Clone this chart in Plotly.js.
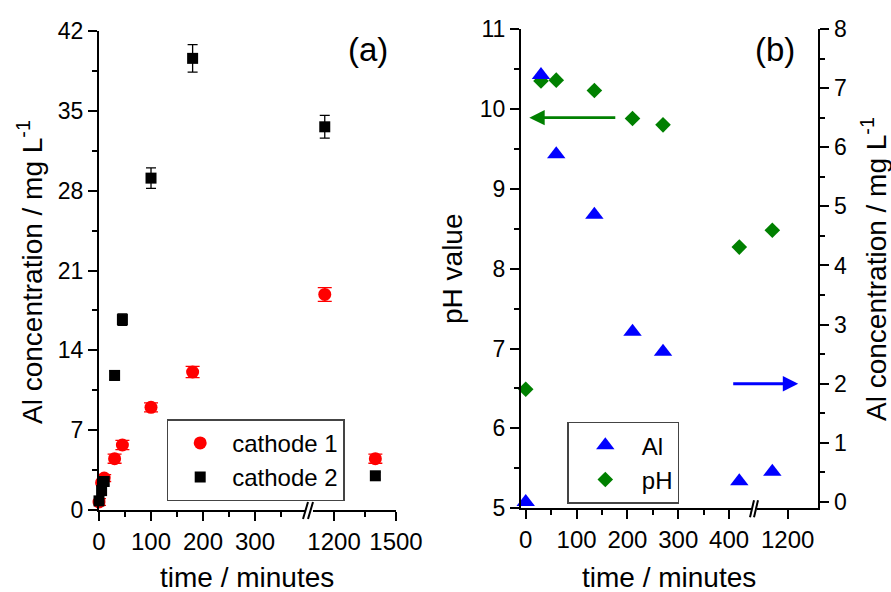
<!DOCTYPE html>
<html>
<head>
<meta charset="utf-8">
<script src="https://cdn.plot.ly/plotly-3.0.1.min.js"></script>
<style>html,body{margin:0;padding:0;background:#fff;}#chart{width:891px;height:592px;}</style>
</head>
<body>
<div id="chart"></div>
<script>
// ---------- data ----------
// panel (a)
const timeA = [0, 5, 10, 30, 45, 100, 180, 1155, 1400];
const cathode1 = [0.7, 2.4, 2.8, 4.5, 5.7, 9.0, 12.1, 18.9, 4.5];
const cathode1Err = [0.3, 0.3, 0.3, 0.4, 0.4, 0.4, 0.5, 0.6, 0.4];
const cathode2 = [0.8, 1.7, 2.5, 11.8, 16.7, 29.1, 39.6, 33.6, 3.0];
const cathode2Err = [0.3, 0.3, 0.3, 0.4, 0.5, 0.9, 1.2, 1.0, 0.3];
// panel (b)
const timeB = [0, 30, 60, 135, 210, 270, 420, 1155];
const pHValue = [6.49, 10.35, 10.36, 10.23, 9.88, 9.80, 8.27, 8.48];
const AlConc = [0.0, 7.22, 5.88, 4.86, 2.88, 2.54, 0.35, 0.51];
// tick values
const ticksA1 = [0, 100, 200, 300];
const ticksA2 = [1200, 1500];
const ticksB1 = [0, 100, 200, 300, 400];
const ticksB2 = [1200];
const ticksYA = [0, 7, 14, 21, 28, 35, 42];
const ticksPH = [5, 6, 7, 8, 9, 10, 11];
const ticksAl = [0, 1, 2, 3, 4, 5, 6, 7, 8];
// axis breaks
const breakA = [398, 1100];
const breakB = [445, 1110];

// ---------- helpers ----------
const W = 891, H = 592;
const fx = p => p / W;
const fy = p => 1 - p / H;
const FONT = 'Liberation Sans, Arial, sans-serif';
const RED = '#ff0000', BLACK = '#000000', BLUE = '#0000ff', GREEN = '#008000';

function pick(t, v, e, cond) {
  const o = {x: [], y: [], e: []};
  t.forEach((ti, i) => { if (cond(ti)) { o.x.push(ti); o.y.push(v[i]); if (e) o.e.push(e[i]); } });
  return o;
}

const traces = [];
function addSeries(name, t, v, e, brk, xa1, xa2, ya, marker, legend, capw) {
  const lo = pick(t, v, e, ti => ti <= brk[0]);
  const hi = pick(t, v, e, ti => ti >= brk[1]);
  [[lo, xa1, true], [hi, xa2, false]].forEach(([d, xa, sl]) => {
    const tr = {
      type: 'scatter', mode: 'markers', name: name,
      x: d.x, y: d.y, xaxis: xa, yaxis: ya,
      marker: marker, cliponaxis: false,
      showlegend: sl, legend: legend, legendgroup: name
    };
    if (e) tr.error_y = {type: 'data', array: d.e, visible: true, color: marker.color, thickness: 1.3, width: capw};
    traces.push(tr);
  });
}

addSeries('cathode 1', timeA, cathode1, cathode1Err, breakA, 'x', 'x2', 'y',
  {symbol: 'circle', size: 13, color: RED}, 'legend', 7);
addSeries('cathode 2', timeA, cathode2, cathode2Err, breakA, 'x', 'x2', 'y',
  {symbol: 'square', size: 11, color: BLACK}, 'legend', 5);
addSeries('pH', timeB, pHValue, null, breakB, 'x3', 'x4', 'y2',
  {symbol: 'diamond', size: 12, color: GREEN}, 'legend2');
addSeries('Al', timeB, AlConc, null, breakB, 'x3', 'x4', 'y3',
  {symbol: 'triangle-up', size: 16, color: BLUE}, 'legend2');

const axBase = {
  showgrid: false, zeroline: false, showline: true, linecolor: '#000', linewidth: 2,
  ticks: 'outside', ticklen: 9, tickwidth: 2, tickcolor: '#000',
  tickfont: {family: FONT, size: 24, color: '#000'},
  automargin: false, fixedrange: true
};
const yTickFont = {family: FONT, size: 23, color: '#000'};
function ax(extra) { return Object.assign({}, axBase, extra); }
const minorDt = (dt) => ({ticks: 'outside', ticklen: 5, tickwidth: 2, tickcolor: '#000', dtick: dt});

const layout = {
  width: W, height: H,
  margin: {l: 0, r: 0, t: 0, b: 0},
  paper_bgcolor: '#fff', plot_bgcolor: 'rgba(0,0,0,0)',
  font: {family: FONT, color: '#000'},
  hovermode: false,
  // panel (a)
  xaxis: ax({domain: [fx(99), fx(306)], range: [0, breakA[0]], anchor: 'y',
    tickmode: 'array', tickvals: ticksA1, minor: minorDt(50)}),
  xaxis2: ax({domain: [fx(313.4), fx(396)], range: [breakA[1], 1500], anchor: 'y',
    tickmode: 'array', tickvals: ticksA2,
    minor: {ticks: 'outside', ticklen: 5, tickwidth: 2, tickcolor: '#000', tickmode: 'array', tickvals: [1350]}}),
  yaxis: ax({domain: [fy(510), fy(31)], range: [0, 42], anchor: 'x',
    tickmode: 'array', tickvals: ticksYA, tickfont: yTickFont, minor: minorDt(3.5)}),
  // panel (b)
  xaxis3: ax({domain: [fx(521), fx(752)], range: [-9.3, breakB[0]], anchor: 'y2',
    tickmode: 'array', tickvals: ticksB1, minor: minorDt(50)}),
  xaxis4: ax({domain: [fx(757), fx(818.3)], range: [breakB[1], 1290], anchor: 'y2',
    tickmode: 'array', tickvals: ticksB2}),
  yaxis2: ax({domain: [fy(508.3), fy(29)], range: [5, 11], anchor: 'x3',
    tickmode: 'array', tickvals: ticksPH, tickfont: yTickFont, minor: minorDt(0.5)}),
  yaxis3: ax({range: [-0.107, 8], overlaying: 'y2', side: 'right', anchor: 'x4',
    tickmode: 'array', tickvals: ticksAl, tickfont: yTickFont, minor: minorDt(0.5)}),
  legend: {x: fx(166.7), y: fy(419.3), xanchor: 'left', yanchor: 'top',
    bgcolor: '#fff', bordercolor: '#444', borderwidth: 1.5,
    font: {family: FONT, size: 24, color: '#000'}, itemwidth: 54, traceorder: 'normal'},
  legend2: {x: fx(567.3), y: fy(421.7), xanchor: 'left', yanchor: 'top',
    bgcolor: '#fff', bordercolor: '#444', borderwidth: 1.5,
    font: {family: FONT, size: 24, color: '#000'}, itemwidth: 63, traceorder: 'reversed'},
  annotations: [
    {text: '(a)', xref: 'paper', yref: 'paper', x: fx(367.5), y: fy(50), showarrow: false,
      font: {family: FONT, size: 33}, xanchor: 'center', yanchor: 'middle'},
    {text: '(b)', xref: 'paper', yref: 'paper', x: fx(775), y: fy(50), showarrow: false,
      font: {family: FONT, size: 33}, xanchor: 'center', yanchor: 'middle'},
    {text: 'time / minutes', xref: 'paper', yref: 'paper', x: fx(247), y: fy(577), showarrow: false,
      font: {family: FONT, size: 28}, xanchor: 'center', yanchor: 'middle'},
    {text: 'time / minutes', xref: 'paper', yref: 'paper', x: fx(669), y: fy(577), showarrow: false,
      font: {family: FONT, size: 28}, xanchor: 'center', yanchor: 'middle'},
    {text: 'Al concentration / mg L<sup>-1</sup>', xref: 'paper', yref: 'paper', x: fx(30), y: fy(272),
      showarrow: false, textangle: -90, font: {family: FONT, size: 28}, xanchor: 'center', yanchor: 'middle'},
    {text: 'pH value', xref: 'paper', yref: 'paper', x: fx(452), y: fy(269),
      showarrow: false, textangle: -90, font: {family: FONT, size: 28}, xanchor: 'center', yanchor: 'middle'},
    {text: 'Al concentration / mg L<sup>-1</sup>', xref: 'paper', yref: 'paper', x: fx(874), y: fy(269),
      showarrow: false, textangle: -90, font: {family: FONT, size: 28}, xanchor: 'center', yanchor: 'middle'},
    // arrows pointing to the axis each series belongs to
    {text: ' ', xref: 'x3', yref: 'y2', x: 7, y: 9.89, axref: 'pixel', ayref: 'pixel', ax: 89, ay: 0,
      showarrow: true, arrowhead: 2, arrowsize: 1.1, arrowwidth: 2.8, arrowcolor: GREEN, standoff: 0},
    {text: ' ', xref: 'x4', yref: 'y3', x: 1231, y: 2.0, axref: 'pixel', ayref: 'pixel', ax: -68, ay: 0,
      showarrow: true, arrowhead: 2, arrowsize: 1.1, arrowwidth: 2.8, arrowcolor: BLUE, standoff: 0}
  ],
  shapes: []
};

// axis-break marks "//"
function breakMarks(xa, ya, offs) {
  offs.forEach(([a, b]) => {
    layout.shapes.push({type: 'line', xref: xa + ' domain', yref: ya + ' domain',
      xsizemode: 'pixel', xanchor: 1, ysizemode: 'pixel', yanchor: 0,
      x0: a, x1: b, y0: -9, y1: 8, line: {color: '#000', width: 2}});
  });
}
breakMarks('x', 'y', [[-3, 2], [2, 7]]);
breakMarks('x3', 'y2', [[-2, 2], [2, 6]]);

Plotly.newPlot('chart', traces, layout, {displayModeBar: false, staticPlot: true});
</script>
</body>
</html>
